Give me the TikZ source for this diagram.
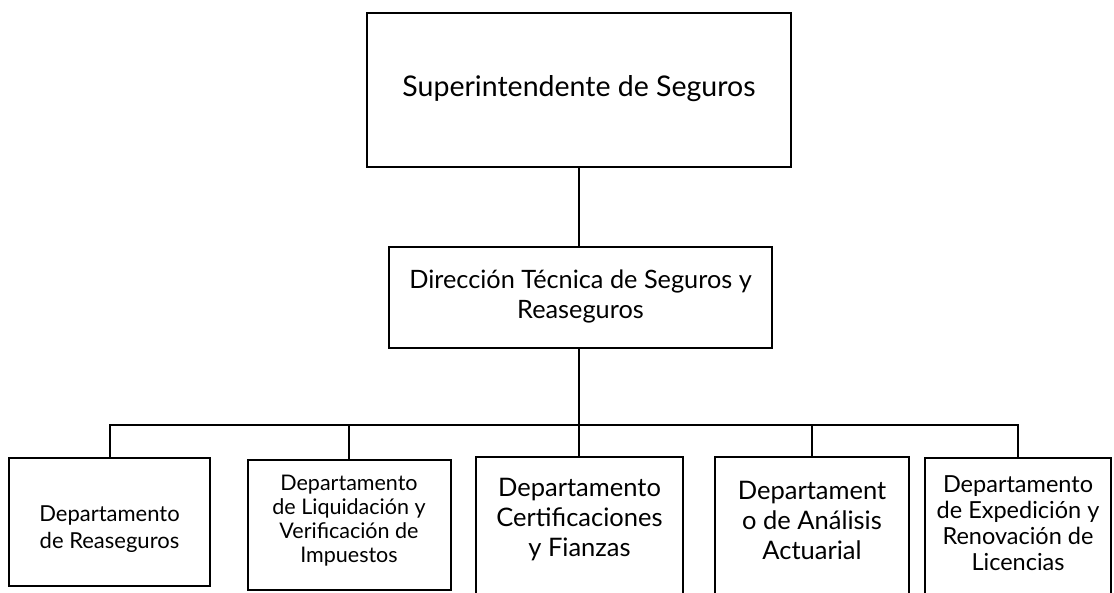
\documentclass[tikz,border=0pt]{standalone}
\usepackage{fontspec}
\setmainfont{Lato}
\begin{document}
\begin{tikzpicture}[x=1pt,y=-1pt,
  box/.style={draw=black, line width=2pt, inner sep=0pt},
  conn/.style={draw=black, line width=2pt},
  txt/.style={align=center, inner sep=0pt, text=black}]
\useasboundingbox (0,0) rectangle (1114,593);
\clip (0,0) rectangle (1114,593);
% top
\node[box, minimum width=424, minimum height=154] (sup) at (579,90) {};
\node[txt, font=\fontsize{28.5}{34}\selectfont] (tsup) at (579,89) {Superintendente de Seguros};
% direction
\node[box, minimum width=383, minimum height=101] (dir) at (580.5,297.5) {};
\node[txt, font=\fontsize{25.3}{30}\selectfont] (tdir) at (580.5,296) {Dirección Técnica de Seguros y\\Reaseguros};
% departments
\node[box, minimum width=201, minimum height=128] (b1) at (109.5,522) {};
\node[box, minimum width=203, minimum height=130] (b2) at (349,525) {};
\node[box, minimum width=207, minimum height=200] (b3) at (579.5,557) {};
\node[box, minimum width=194, minimum height=200] (b4) at (812,557) {};
\node[box, minimum width=186, minimum height=200] (b5) at (1018,558) {};
\node[txt, font=\fontsize{22}{27}\selectfont] (t1) at (109.5,529) {Departamento\\de Reaseguros};
\node[txt, font=\fontsize{21.5}{24}\selectfont] (t2) at (349,521) {Departamento\\de Liquidación y\\Verificación de\\Impuestos};
\node[txt, font=\fontsize{25.5}{30}\selectfont] (t3) at (579.5,520) {Departamento\\Certificaciones\\y Fianzas};
\node[txt, font=\fontsize{25.5}{30}\selectfont] (t4) at (812,520) {Departament\\o de Análisis\\Actuarial};
\node[txt, font=\fontsize{23.5}{26}\selectfont] (t5) at (1018,523) {Departamento\\de Expedición y\\Renovación de\\Licencias};
% connectors
\coordinate (bus) at (0,425);
\draw[conn] (sup.south) -- (dir.north -| sup.south);
\draw[conn] (dir.south -| sup.south) -- (b3.north -| sup.south);
\draw[conn] (b1.north) -- (b1.north |- bus) -- (b5.north |- bus) -- (b5.north);
\draw[conn] (b2.north) -- (b2.north |- bus);
\draw[conn] (b4.north) -- (b4.north |- bus);
\end{tikzpicture}
\end{document}
